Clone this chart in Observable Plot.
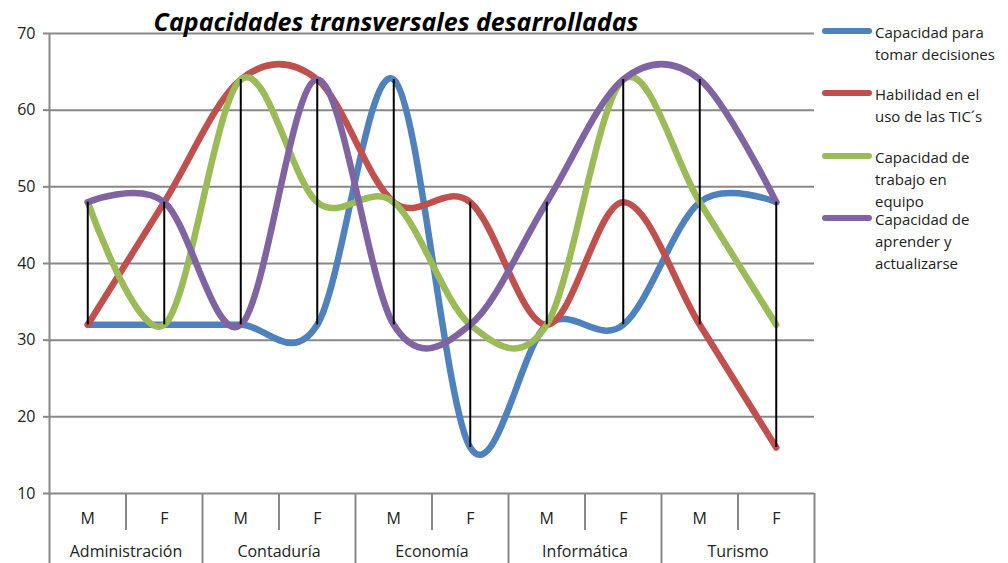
<!DOCTYPE html>
<html>
<head>
<meta charset="utf-8">
<script src="https://cdn.jsdelivr.net/npm/d3@7"></script>
<script src="https://cdn.jsdelivr.net/npm/@observablehq/plot@0.6"></script>
<style>
  html, body { margin: 0; padding: 0; background: #fff; }
  #wrap { position: relative; width: 1008px; height: 563px; overflow: hidden; font-family: "Open Sans", sans-serif; }
  #title { position: absolute; left: 0; width: 792px; top: 5px; text-align: center; font-weight: bold; font-style: italic; font-size: 25px; color: #000; line-height: 32px; }
  #legend { position: absolute; left: 820px; top: 0; width: 190px; }
  .item { position: absolute; left: 0; }
  .swatch { position: absolute; left: 2px; width: 50px; height: 6px; border-radius: 3px; }
  .label { position: absolute; left: 55px; font-size: 15px; line-height: 22px; color: #222; white-space: nowrap; }
</style>
</head>
<body>
<div id="wrap">
  <div id="chart"></div>
  <div id="title"></div>
  <div id="legend"></div>
</div>
<script>
const title = "Capacidades transversales desarrolladas";
const careers = ["Administración", "Contaduría", "Economía", "Informática", "Turismo"];
const sexes = ["M", "F"];
const seriesNames = ["Capacidad para tomar decisiones", "Habilidad en el uso de las TIC´s", "Capacidad de trabajo en equipo", "Capacidad de aprender y actualizarse"];
const legendLines = [["Capacidad para", "tomar decisiones"], ["Habilidad en el", "uso de las TIC´s"], ["Capacidad de", "trabajo en", "equipo"], ["Capacidad de", "aprender y", "actualizarse"]];
const colors = ["#4f81bd", "#c0504d", "#9bbb59", "#8064a2"];
const decisiones = [32, 32, 32, 32, 64, 16, 32, 32, 48, 48];
const tics       = [32, 48, 64, 64, 48, 48, 32, 48, 32, 16];
const equipo     = [48, 32, 64, 48, 48, 32, 32, 64, 48, 32];
const aprender   = [48, 48, 32, 64, 32, 32, 48, 64, 64, 48];
const yTicks = [10, 20, 30, 40, 50, 60, 70];

const series = [decisiones, tics, equipo, aprender];
const n = decisiones.length;
const data = [];
series.forEach((vals, s) => vals.forEach((v, i) => data.push({i: i + 0.5, v, s: seriesNames[s]})));
const hilo = d3.range(n).map(i => ({i: i + 0.5, lo: d3.min(series, a => a[i]), hi: d3.max(series, a => a[i])}));
const centers = d3.range(n).map(i => i + 0.5);
const careerCenters = careers.map((c, k) => 2 * k + 1);
const shortSeps = d3.range(1, n, 2);
const longSeps = d3.range(0, n + 1, 2);

const chart = Plot.plot({
  width: 1008, height: 563,
  marginLeft: 49, marginRight: 194, marginTop: 33, marginBottom: 70,
  style: {fontFamily: "Open Sans, sans-serif", background: "#fff"},
  x: {domain: [0, n], axis: null},
  y: {domain: [10, 70], axis: null},
  color: {domain: seriesNames, range: colors},
  marks: [
    Plot.gridY(yTicks, {stroke: "#888", strokeOpacity: 1, strokeWidth: 2}),
    Plot.ruleX([0], {stroke: "#888", strokeWidth: 2}),
    Plot.axisY({ticks: yTicks, tickSize: 6, tickPadding: 8, fontSize: 16, stroke: "#888", strokeWidth: 2, color: "#222", label: null}),
    Plot.axisX({ticks: shortSeps, tickSize: 37, tickFormat: () => "", stroke: "#888", strokeWidth: 2, label: null}),
    Plot.axisX({ticks: longSeps, tickSize: 70, tickFormat: () => "", stroke: "#888", strokeWidth: 2, label: null}),
    Plot.axisX({ticks: centers, tickSize: 0, tickPadding: 19, tickFormat: (d, k) => sexes[k % 2], fontSize: 16, color: "#222", label: null}),
    Plot.axisX({ticks: careerCenters, tickSize: 0, tickPadding: 52, tickFormat: (d, k) => careers[k], fontSize: 16, color: "#222", label: null}),
    Plot.line(data, {x: "i", y: "v", z: "s", stroke: "s", strokeWidth: 6.5, curve: "cardinal", strokeLinecap: "round", strokeLinejoin: "round"}),
    Plot.ruleX(hilo, {x: "i", y1: "lo", y2: "hi", stroke: "#000", strokeWidth: 2})
  ]
});
document.getElementById("chart").appendChild(chart);
document.getElementById("title").textContent = title;

const leg = document.getElementById("legend");
const tops = [21, 83, 146, 208];
legendLines.forEach((lines, k) => {
  const item = document.createElement("div");
  item.className = "item";
  item.style.top = tops[k] + "px";
  const sw = document.createElement("div");
  sw.className = "swatch";
  sw.style.background = colors[k];
  sw.style.top = "7px";
  item.appendChild(sw);
  const lab = document.createElement("div");
  lab.className = "label";
  lab.style.top = "0px";
  lab.innerHTML = lines.join("<br>");
  item.appendChild(lab);
  leg.appendChild(item);
});
</script>
</body>
</html>
